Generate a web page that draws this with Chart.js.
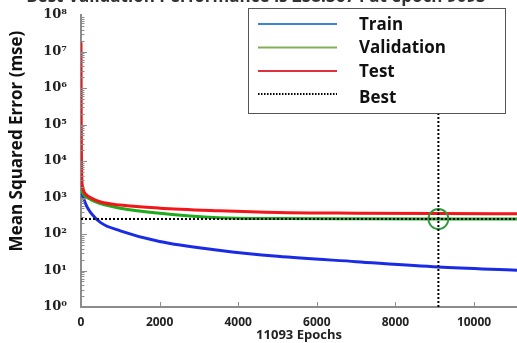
<!DOCTYPE html>
<html><head><meta charset="utf-8">
<script src="https://cdn.jsdelivr.net/npm/chart.js@4/dist/chart.umd.min.js"></script>
<style>html,body{margin:0;padding:0;background:#fff;overflow:hidden}canvas{display:block}</style>
</head><body>
<canvas id="c" width="517" height="343"></canvas>
<script>
const titleText = 'Best Validation Performance is 258.3674 at epoch 9093';
const epochs        = [0, 5, 10, 20, 40, 80, 150, 250, 500, 1000, 2000, 3500, 5000, 7000, 9093, 11093];
const trainMse      = [1800, 1700, 1600, 1400, 1150, 850, 560, 380, 205, 122, 62, 36, 24.5, 17.5, 12.5, 10.2];
const validationMse = [1800, 1750, 1700, 1550, 1350, 1150, 1000, 880, 680, 510, 370, 280, 265, 260, 258, 259];
const testMse       = [1.8e7, 2e5, 2e4, 3500, 2000, 1400, 1150, 980, 750, 620, 510, 435, 390, 372, 362, 358];
const bestEpoch = 9093;
const bestMse = 258;
const maxEpoch = 11093;
const xTickValues = [0, 2000, 4000, 6000, 8000, 10000];
const yTickValues = [1, 10, 100, 1e3, 1e4, 1e5, 1e6, 1e7, 1e8];
const yTickLabels = ['10\u2070','10\u00B9','10\u00B2','10\u00B3','10\u2074','10\u2075','10\u2076','10\u2077','10\u2078'];
const legendLabels = ['Train', 'Validation', 'Test', 'Best'];
const xAxisTitle = '11093 Epochs';
const yAxisTitle = 'Mean Squared Error (mse)';

const toXY = (xs, ys) => xs.map((x, i) => ({x: x, y: ys[i]}));

const extras = {
  id: 'extras',
  afterDatasetsDraw(chart) {
    const ctx = chart.ctx;
    const xs = chart.scales.x, ys = chart.scales.y;
    const L = chart.chartArea.left, B = chart.chartArea.bottom;
    ctx.save();
    ctx.strokeStyle = '#8c8c8c';
    ctx.lineWidth = 1;
    for (let d = 0; d < 8; d++) {
      for (let m = 1; m <= 9; m++) {
        const v = m * Math.pow(10, d);
        const py = Math.round(ys.getPixelForValue(v)) + 0.5;
        ctx.beginPath();
        ctx.moveTo(L, py);
        ctx.lineTo(L + (m === 1 ? 6 : 3.5), py);
        ctx.stroke();
      }
    }
    xTickValues.forEach(v => {
      const px = Math.round(xs.getPixelForValue(v)) + 0.5;
      ctx.beginPath();
      ctx.moveTo(px, B);
      ctx.lineTo(px, B - 5);
      ctx.stroke();
    });
    ctx.restore();
  },
  afterDraw(chart) {
    const ctx = chart.ctx;
    ctx.save();
    ctx.fillStyle = '#333';
    ctx.font = 'bold 17px "Open Sans"';
    ctx.textAlign = 'center';
    ctx.textBaseline = 'alphabetic';
    ctx.fillText(titleText, 256, 2);
    ctx.save();
    ctx.translate(17, 141);
    ctx.rotate(-Math.PI / 2);
    ctx.font = 'bold 17px "Open Sans"';
    ctx.textAlign = 'center';
    ctx.textBaseline = 'middle';
    ctx.fillStyle = '#111';
    ctx.fillText(yAxisTitle, 0, 0);
    ctx.restore();
    const bx = 248.5, by = 8.5, bw = 257, bh = 105;
    ctx.fillStyle = '#fff';
    ctx.fillRect(bx, by, bw, bh);
    ctx.strokeStyle = '#555';
    ctx.lineWidth = 1;
    ctx.strokeRect(bx, by, bw, bh);
    const rowsY = [24, 47.5, 71, 94];
    const textY = [25, 48, 72, 98];
    const cols = ['#3d84d6', '#86ad5a', '#e0303c', '#000'];
    legendLabels.forEach((lab, i) => {
      ctx.beginPath();
      ctx.strokeStyle = cols[i];
      ctx.lineWidth = 2;
      ctx.setLineDash(i === 3 ? [1.5, 1.5] : []);
      ctx.moveTo(258, rowsY[i]);
      ctx.lineTo(337, rowsY[i]);
      ctx.stroke();
      ctx.setLineDash([]);
      ctx.fillStyle = '#111';
      ctx.font = 'bold 17px "Open Sans"';
      ctx.textAlign = 'left';
      ctx.textBaseline = 'middle';
      ctx.fillText(lab, 359, textY[i]);
    });
    ctx.restore();
  }
};

new Chart(document.getElementById('c'), {
  type: 'line',
  data: {
    datasets: [
      {label: 'BestV', data: [{x: bestEpoch, y: 1}, {x: bestEpoch, y: 1e8}], borderColor: '#000', borderWidth: 2, borderDash: [2, 2], pointRadius: 0, order: 0},
      {label: 'BestH', data: [{x: 0, y: bestMse}, {x: maxEpoch, y: bestMse}], borderColor: '#000', borderWidth: 2, borderDash: [2, 2], pointRadius: 0, order: 0},
      {label: 'Circle', data: [{x: bestEpoch, y: bestMse}], showLine: false, pointRadius: 10, pointBorderWidth: 1.8, pointBorderColor: '#2a9a3a', pointBackgroundColor: 'rgba(0,0,0,0)', order: 0},
      {label: 'Test', data: toXY(epochs, testMse), borderColor: '#f2161b', borderWidth: 3, pointRadius: 0, cubicInterpolationMode: 'monotone', order: 1},
      {label: 'Validation', data: toXY(epochs, validationMse), borderColor: '#1eab1e', borderWidth: 3, pointRadius: 0, cubicInterpolationMode: 'monotone', order: 2},
      {label: 'Train', data: toXY(epochs, trainMse), borderColor: '#1a2be6', borderWidth: 3, pointRadius: 0, cubicInterpolationMode: 'monotone', order: 3}
    ]
  },
  options: {
    responsive: false,
    animation: false,
    devicePixelRatio: 1,
    layout: {autoPadding: false, padding: {top: 15, left: 0, right: 0, bottom: 0}},
    plugins: {legend: {display: false}, tooltip: {enabled: false}, title: {display: false}},
    scales: {
      x: {
        type: 'linear', min: 0, max: maxEpoch,
        afterBuildTicks: s => { s.ticks = xTickValues.map(v => ({value: v})); },
        afterFit: s => { s.height = 36; s.paddingLeft = 0; s.paddingRight = 0; s.paddingTop = 0; s.paddingBottom = 0; },
        grid: {display: false, drawTicks: false},
        border: {display: true, color: '#8c8c8c', width: 2},
        ticks: {padding: 8, color: '#222', font: {family: 'Open Sans', weight: 'bold', size: 12}, maxRotation: 0, autoSkip: false,
          callback: v => String(v)},
        title: {display: true, text: xAxisTitle, color: '#222', font: {family: 'Open Sans', weight: 'bold', size: 13}, padding: 0}
      },
      y: {
        type: 'logarithmic', min: 1, max: 1e8,
        afterBuildTicks: s => { s.ticks = yTickValues.map(v => ({value: v})); },
        afterFit: s => { s.width = 81; s.paddingLeft = 0; s.paddingRight = 0; s.paddingTop = 0; s.paddingBottom = 0; },
        grid: {display: false, drawTicks: false},
        border: {display: true, color: '#8c8c8c', width: 2},
        ticks: {padding: 14, color: '#222', font: {family: 'DejaVu Serif', weight: 'bold', size: 13},
          callback: (v) => { const i = yTickValues.indexOf(v); return i >= 0 ? yTickLabels[i] : ''; }}
      }
    }
  },
  plugins: [extras]
});
</script>
</body></html>
